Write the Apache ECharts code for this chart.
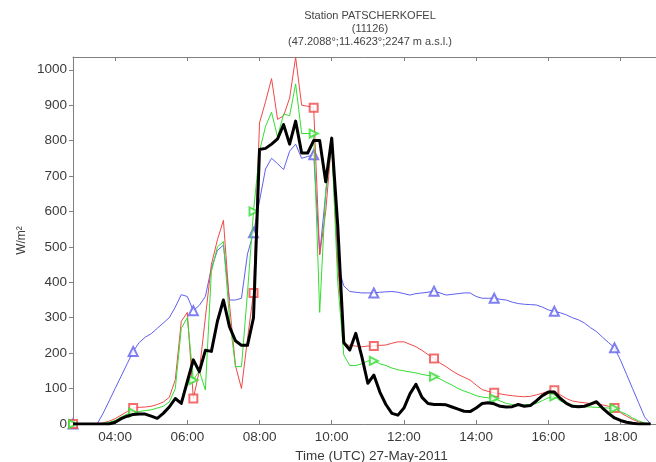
<!DOCTYPE html>
<html><head><meta charset="utf-8">
<script src="https://cdn.jsdelivr.net/npm/echarts@6/dist/echarts.min.js"></script>
<style>html,body{margin:0;padding:0;background:#fff}#c{width:656px;height:462px}</style>
</head><body><div id="c"></div>
<script>
const times = ['02:50','03:00','03:10','03:20','03:30','03:40','03:50','04:00','04:10','04:20','04:30','04:40','04:50','05:00','05:10','05:20','05:30','05:40','05:50','06:00','06:10','06:20','06:30','06:40','06:50','07:00','07:10','07:20','07:30','07:40','07:50','08:00','08:10','08:20','08:30','08:40','08:50','09:00','09:10','09:20','09:30','09:40','09:50','10:00','10:10','10:20','10:30','10:40','10:50','11:00','11:10','11:20','11:30','11:40','11:50','12:00','12:10','12:20','12:30','12:40','12:50','13:00','13:10','13:20','13:30','13:40','13:50','14:00','14:10','14:20','14:30','14:40','14:50','15:00','15:10','15:20','15:30','15:40','15:50','16:00','16:10','16:20','16:30','16:40','16:50','17:00','17:10','17:20','17:30','17:40','17:50','18:00','18:10','18:20','18:30','18:40','18:50'];
const tickLabels = ['04:00','06:00','08:00','10:00','12:00','14:00','16:00','18:00'];
const yTicks = [0,100,200,300,400,500,600,700,800,900,1000];

const measured = [0,0,0,0,0,0,0,5,15,22,27,28,28,22,16,30,48,72,58,120,181,148,208,205,290,350,275,235,222,222,300,775,778,790,805,845,790,855,765,765,800,800,684,807,560,230,209,256,190,115,138,90,55,30,25,45,85,112,75,58,55,55,54,48,42,36,35,45,58,60,57,50,48,49,55,50,52,65,80,90,90,72,58,50,49,50,56,63,45,30,17,10,5,2,0,0,0];
const modelRed = [0,0,0,0,0,3,8,15,25,35,45,47,48,50,55,62,75,125,290,315,72,150,300,450,520,575,340,165,100,240,370,850,910,975,860,870,920,1035,900,897,893,477,600,800,450,225,222,220,218,220,220,222,223,228,232,232,225,218,208,196,185,172,162,150,140,132,124,110,97,92,88,85,82,80,78,77,78,82,87,92,95,82,72,65,62,60,58,57,54,50,45,32,22,13,6,2,0];
const modelGreen = [0,0,0,0,0,2,5,10,20,28,32,35,38,40,45,50,62,100,270,300,124,150,96,430,500,515,300,162,162,370,600,770,840,880,810,875,870,960,820,820,820,315,660,790,400,195,165,165,170,178,178,170,165,158,153,150,147,144,140,137,134,127,118,110,100,93,87,80,76,74,72,65,58,55,54,54,55,58,66,74,78,65,58,54,51,49,48,47,46,45,44,35,27,17,9,3,0];
const modelBlue = [0,0,0,0,0,30,65,100,135,170,205,230,245,255,270,285,300,330,365,360,320,335,360,440,490,505,350,350,355,480,540,630,720,750,735,718,770,790,750,755,760,480,650,800,450,390,374,372,370,370,370,372,373,374,372,368,364,368,370,372,375,370,364,366,368,370,370,360,355,355,355,352,350,344,340,338,337,336,330,322,318,314,308,300,294,285,272,261,245,230,215,180,140,100,60,20,0];
const markerEvery = 10;

function toHours(s){const p=s.split(':').map(Number);return p[0]+p[1]/60;}
const xs = times.map(toHours);
const tickHours = tickLabels.map(toHours);
function pairs(vals){return vals.map((v,i)=>[xs[i],v]);}
function markers(vals){return pairs(vals).filter((p,i)=>i%markerEvery===0);}
function fmt(h){const hh=Math.floor(h+1e-6);const mm=Math.round((h-hh)*60);return (hh<10?'0':'')+hh+':'+(mm<10?'0':'')+mm;}

const FONT='Liberation Sans';
const TXT='#3a3a3a';
const AX='#808080';
const xmin = xs[0], xmax = 19.37;

const chart = echarts.init(document.getElementById('c'), null, {renderer:'canvas'});
chart.setOption({
  animation:false,
  backgroundColor:'#fff',
  title:{
    text:'Station PATSCHERKOFEL\n(11126)\n(47.2088°;11.4623°;2247 m a.s.l.)',
    left:370, top:9, padding:0, textAlign:'center',
    textStyle:{fontFamily:FONT,fontSize:11,fontWeight:'normal',color:'#444',lineHeight:13}
  },
  grid:{left:73,right:-14,top:57,bottom:38,containLabel:false,outerBoundsMode:'none'},
  xAxis:[{
    type:'value', min:xmin, max:xmax, position:'bottom',
    name:'Time (UTC) 27-May-2011', nameLocation:'middle', nameGap:19,
    nameTextStyle:{fontFamily:FONT,fontSize:13.5,color:TXT},
    axisLine:{show:true,lineStyle:{color:AX,width:1}},
    axisTick:{show:true,inside:true,length:4,lineStyle:{color:AX},customValues:tickHours},
    axisLabel:{fontFamily:FONT,fontSize:13.5,color:TXT,margin:6,customValues:tickHours,formatter:fmt},
    splitLine:{show:false}
  },{
    type:'value', min:xmin, max:xmax, position:'top',
    axisLine:{show:true,lineStyle:{color:AX,width:1}},
    axisTick:{show:true,inside:true,length:4,lineStyle:{color:AX},customValues:tickHours},
    axisLabel:{show:false},
    splitLine:{show:false}
  }],
  yAxis:{
    type:'value', min:0, max:1036,
    name:'W/m²', nameLocation:'middle', nameGap:45, nameRotate:90, nameMoveOverlap:false,
    nameTextStyle:{fontFamily:FONT,fontSize:12,color:TXT},
    axisLine:{show:true,lineStyle:{color:AX,width:1}},
    axisTick:{show:true,inside:false,length:4,lineStyle:{color:AX},customValues:yTicks},
    axisLabel:{fontFamily:FONT,fontSize:13.5,color:TXT,margin:6,customValues:yTicks,formatter:function(v){return String(v);}},
    splitLine:{show:false}
  },
  series:[
    {type:'line',data:pairs(modelBlue),showSymbol:false,lineStyle:{color:'#5f5fee',width:1},itemStyle:{color:'#5f5fee'},z:2},
    {type:'scatter',data:markers(modelBlue),symbol:'emptyTriangle',symbolSize:9,itemStyle:{color:'#5f5fee',borderWidth:1},z:2},
    {type:'line',data:pairs(modelRed),showSymbol:false,lineStyle:{color:'#f04848',width:1},itemStyle:{color:'#f04848'},z:3},
    {type:'scatter',data:markers(modelRed),symbol:'emptyRect',symbolSize:8,itemStyle:{color:'#f04848',borderWidth:1},z:3},
    {type:'line',data:pairs(modelGreen),showSymbol:false,lineStyle:{color:'#33dd33',width:1},itemStyle:{color:'#33dd33'},z:4},
    {type:'scatter',data:markers(modelGreen),symbol:'emptyTriangle',symbolRotate:-90,symbolSize:8,itemStyle:{color:'#33dd33',borderWidth:1},z:4},
    {type:'line',data:pairs(measured),showSymbol:false,lineStyle:{color:'#000',width:3,join:'round'},itemStyle:{color:'#000'},z:5}
  ]
});
</script></body></html>
